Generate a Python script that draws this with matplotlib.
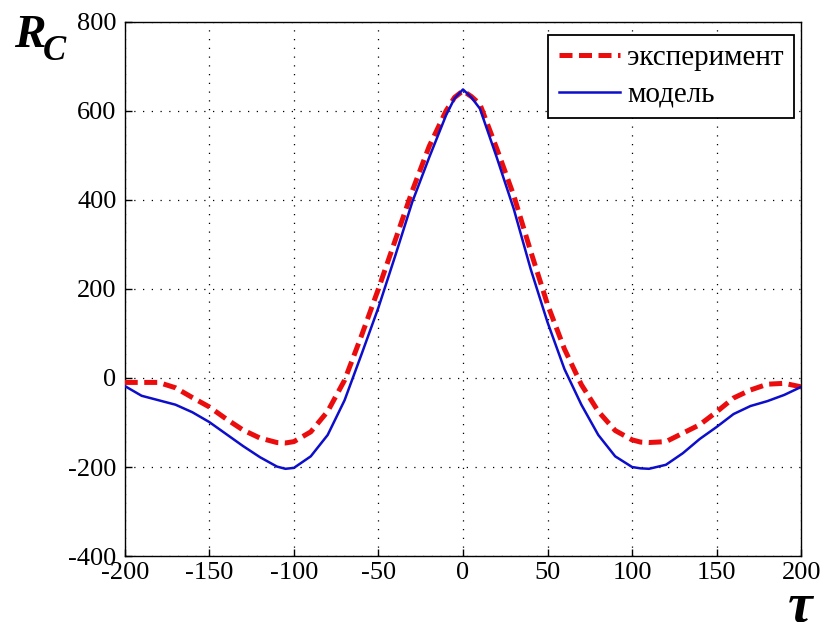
import numpy as np
import matplotlib.pyplot as plt

plt.rcParams['font.family'] = ['Liberation Serif', 'DejaVu Serif']
plt.rcParams['axes.unicode_minus'] = False

# lag values
tau = [-200, -190, -180, -170, -160, -150, -140, -130, -120, -110, -105, -100,
       -90, -80, -70, -60, -50, -40, -30, -20, -10, -5, 0,
       5, 10, 20, 30, 40, 50, 60, 70, 80, 90, 100,
       105, 110, 120, 130, 140, 150, 160, 170, 180, 190, 200]

# measured correlation (red dashed)
r_exp = [-10, -10, -10, -22, -44, -65, -92, -117, -135, -145, -146, -143,
         -121, -75, -5, 95, 200, 310, 420, 520, 600, 630, 645,
         632, 615, 515, 410, 285, 165, 65, -15, -75, -118, -139,
         -144, -145, -143, -124, -105, -76, -45, -27, -14, -12, -20]

# model correlation (blue)
r_mod = [-18, -40, -50, -60, -77, -99, -126, -153, -178, -199, -204, -202,
         -176, -128, -50, 53, 158, 275, 395, 495, 590, 628, 648,
         630, 605, 495, 380, 245, 125, 20, -60, -128, -176, -200,
         -203, -204, -195, -169, -137, -110, -81, -63, -52, -38, -20]

fig = plt.figure(figsize=(8.26, 6.22), dpi=100)
ax = fig.add_axes([0.151, 0.106, 0.819, 0.859])

ax.plot(tau, r_exp, color=(0.92, 0.05, 0.05), lw=3.6, ls=(0, (2.6, 1.3)),
        label='эксперимент', zorder=3)
ax.plot(tau, r_mod, color=(0.05, 0.05, 0.8), lw=1.8, label='модель',
        zorder=4, solid_joinstyle='round')

ax.set_xlim(-200, 200)
ax.set_ylim(-400, 800)
ax.set_xticks(np.arange(-200, 201, 50))
ax.set_yticks(np.arange(-400, 801, 200))
ax.tick_params(direction='in', labelsize=19, length=5, width=1)
ax.tick_params(axis='y', pad=6)
ax.tick_params(axis='x', pad=4.5)
ax.grid(True, ls=(0, (1, 6)), color='black', lw=0.9)
for s in ax.spines.values():
    s.set_linewidth(1)

leg = ax.legend(loc='upper right', fontsize=21, fancybox=False,
                edgecolor='black', framealpha=1, handlelength=2.1,
                handletextpad=0.25, borderpad=0.35, labelspacing=0.35,
                borderaxespad=0, bbox_to_anchor=(0.989, 0.976))
leg.get_frame().set_linewidth(1.3)

# axis names in the corners
fig.text(14 / 826, 1 - 47 / 622, 'R', fontsize=34, fontweight='bold',
         style='italic')
fig.text(43 / 826, 1 - 60 / 622, 'C', fontsize=25, fontweight='bold',
         style='italic')
fig.text(788 / 826, 1 - 621 / 622, 'τ', fontsize=40, fontweight='bold',
         style='italic')

fig.savefig('out.png', dpi=100)
